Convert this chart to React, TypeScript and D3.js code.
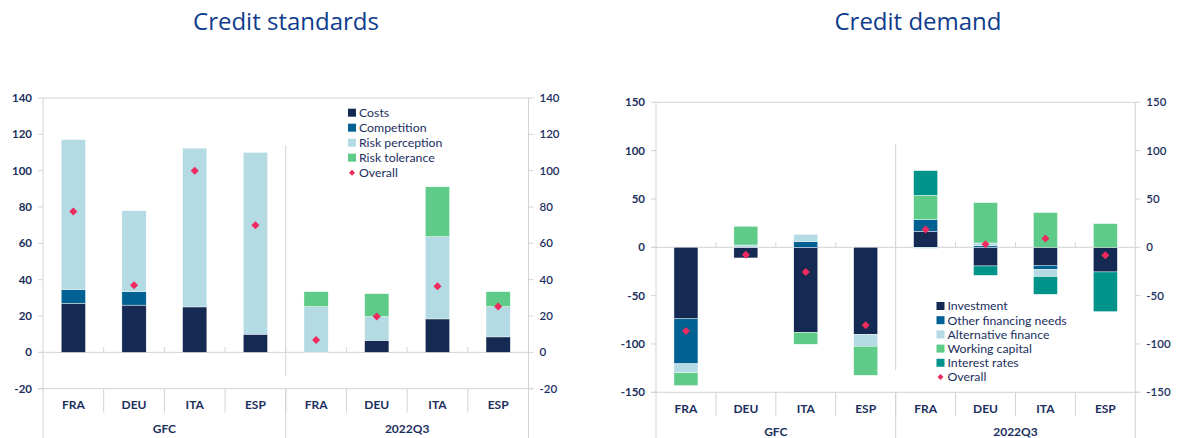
import React from 'react';
import * as d3 from 'd3';

const categories = ['FRA', 'DEU', 'ITA', 'ESP', 'FRA', 'DEU', 'ITA', 'ESP'];
const groups = ['GFC', '2022Q3'];

const stdSeriesNames = ['Costs', 'Competition', 'Risk perception', 'Risk tolerance'];
const stdCosts = [27, 26, 25, 10, 0, 6.6, 18.4, 8.5];
const stdCompetition = [7.5, 7.4, 0, 0, 0, 0, 0, 0];
const stdRiskPerception = [82.6, 44.5, 87.4, 100.1, 25.2, 13.1, 45.3, 16.7];
const stdRiskTolerance = [0, 0, 0, 0, 8.2, 12.6, 27.4, 8.2];
const stdOverall = [77.5, 37, 100, 70, 6.8, 19.7, 36.4, 25.3];
const stdTicks = [-20, 0, 20, 40, 60, 80, 100, 120, 140];

const demSeriesNames = ['Investment', 'Other financing needs', 'Alternative finance', 'Working capital', 'Interest rates'];
const demInvestment = [-74, -11, -88, -90, 16.6, -19.3, -18.6, -25.5];
const demOther = [-46.5, 0, 5.9, 0, 12, 1.5, -4.4, 0];
const demAlternative = [-9.3, 2.4, 7.5, -12.4, -1.3, 3, -7.3, 0];
const demWorking = [-13.2, 19.3, -12.3, -30, 25.2, 41.7, 35.9, 24.5];
const demInterest = [0, 0, 0, 0, 25.5, -9.7, -18.3, -41];
const demOverall = [-86.6, -7.6, -25.5, -80.7, 18.3, 3.1, 9, -8.3];
const demTicks = [-150, -100, -50, 0, 50, 100, 150];

const C_DARK = '#142a52';
const C_BLUE = '#006192';
const C_LIGHT = '#b4dae4';
const C_GREEN = '#5ecb88';
const C_TEAL = '#00938a';
const C_RED = '#ee2a5e';
const C_AXIS = '#d3d3d3';
const C_TEXT = '#1b2f5e';
const FONT = 'Lato, "Open Sans", sans-serif';

type ChartProps = {
  title: string;
  titleX: number;
  x0: number;
  x1: number;
  yTop: number;
  yBottom: number;
  domain: [number, number];
  ticks: number[];
  names: string[];
  values: number[][];
  colors: string[];
  overall: number[];
  legendX: number;
  legendY: number;
  legendStep: number;
  sepTop: number;
  sepBottom: number;
  catY: number;
  groupY: number;
};

function Chart(p: ChartProps) {
  const y = d3.scaleLinear().domain(p.domain).range([p.yBottom, p.yTop]);
  const idx = categories.map((_, i) => i);
  const x = d3
    .scaleBand<number>()
    .domain(idx)
    .range([p.x0, p.x1])
    .paddingInner(0.6)
    .paddingOuter(0.3);
  const step = x.step();
  const rows = idx.map((i) => {
    const r: any = { i };
    p.names.forEach((n, k) => (r[n] = p.values[k][i]));
    return r;
  });
  const stack = d3.stack<any>().keys(p.names).offset(d3.stackOffsetDiverging)(rows);
  const y0 = y(0);
  const diamond = d3.symbol(d3.symbolSquare, 32)();
  const nG = categories.length / groups.length;
  const bounds = d3.range(1, categories.length).map((k) => p.x0 + k * step);
  const groupBounds = d3.range(1, groups.length).map((g) => p.x0 + g * nG * step);
  const bottomY = 438;
  return (
    <g fontFamily={FONT}>
      <text x={p.titleX} y={30} textAnchor="middle" fontSize={24} fontFamily='"Open Sans", Lato, sans-serif' fill="#0f3c8c">
        {p.title}
      </text>
      {/* frame */}
      <line x1={p.x0} x2={p.x1} y1={p.yTop} y2={p.yTop} stroke={C_AXIS} />
      <line x1={p.x0} x2={p.x0} y1={p.yTop} y2={bottomY} stroke={C_AXIS} />
      <line x1={p.x1} x2={p.x1} y1={p.yTop} y2={bottomY} stroke={C_AXIS} />
      <line x1={p.x0 - 5} x2={p.x1} y1={y0} y2={y0} stroke={C_AXIS} />
      <line x1={p.x0 - 5} x2={p.x1 + 5} y1={p.yBottom} y2={p.yBottom} stroke={C_AXIS} />
      {/* ticks */}
      {p.ticks.map((t) => (
        <g key={t}>
          <line x1={p.x0 - 5} x2={p.x0} y1={y(t)} y2={y(t)} stroke={C_AXIS} />
          <line x1={p.x1} x2={p.x1 + 5} y1={y(t)} y2={y(t)} stroke={C_AXIS} />
          <text x={p.x0 - 11} y={y(t)} dy="0.35em" textAnchor="end" fontSize={11.5} fontWeight={700} fill={C_TEXT}>
            {t}
          </text>
          <text x={p.x1 + 11} y={y(t)} dy="0.35em" textAnchor="start" fontSize={11.5} fontWeight={600} fill={C_TEXT}>
            {t}
          </text>
        </g>
      ))}
      {/* boundary ticks on zero line */}
      {bounds.map((b, k) => (
        <line key={'zt' + k} x1={b} x2={b} y1={y0 - 5} y2={y0} stroke={C_AXIS} />
      ))}
      {/* category separators under axis */}
      {bounds.map((b, k) => (
        <line key={'cs' + k} x1={b} x2={b} y1={p.yBottom} y2={p.yBottom + 24} stroke={C_AXIS} />
      ))}
      {groupBounds.map((b, k) => (
        <g key={'gs' + k}>
          <line x1={b} x2={b} y1={p.yBottom} y2={bottomY} stroke={C_AXIS} />
          <line x1={b} x2={b} y1={p.sepTop} y2={p.sepBottom} stroke={C_AXIS} />
        </g>
      ))}
      {/* bars */}
      {stack.map((s, k) => (
        <g key={p.names[k]} fill={p.colors[k]}>
          {s.map((d, i) =>
            d[1] - d[0] === 0 ? null : (
              <rect
                key={i}
                x={x(i)}
                width={x.bandwidth()}
                y={y(Math.max(d[0], d[1]))}
                height={Math.abs(y(d[0]) - y(d[1]))}
                stroke="#ffffff"
                strokeWidth={0.4}
              />
            )
          )}
        </g>
      ))}
      {/* overall */}
      {p.overall.map((v, i) => (
        <path
          key={'ov' + i}
          d={diamond as string}
          transform={`translate(${(x(i) as number) + x.bandwidth() / 2},${y(v)}) rotate(45)`}
          fill={C_RED}
        />
      ))}
      {/* category labels */}
      {categories.map((c, i) => (
        <text key={'cl' + i} x={p.x0 + (i + 0.5) * step} y={p.catY} textAnchor="middle" fontSize={12} fontWeight={700} fill={C_TEXT}>
          {c}
        </text>
      ))}
      {groups.map((g, k) => (
        <text key={'gl' + k} x={p.x0 + (k + 0.5) * nG * step} y={p.groupY} textAnchor="middle" fontSize={12} fontWeight={700} fill={C_TEXT}>
          {g}
        </text>
      ))}
      {/* legend */}
      {p.names.map((n, k) => (
        <g key={'lg' + k} transform={`translate(${p.legendX},${p.legendY + k * p.legendStep})`}>
          <rect x={0} y={-4} width={8} height={8} fill={p.colors[k]} />
          <text x={11} y={0} dy="0.35em" fontSize={12.3} fill={C_TEXT}>
            {n}
          </text>
        </g>
      ))}
      <g transform={`translate(${p.legendX},${p.legendY + p.names.length * p.legendStep})`}>
        <path d={d3.symbol(d3.symbolSquare, 18)() as string} transform="translate(4,0) rotate(45)" fill={C_RED} />
        <text x={11} y={0} dy="0.35em" fontSize={12.3} fill={C_TEXT}>
          Overall
        </text>
      </g>
    </g>
  );
}

export default function App() {
  return (
    <svg width={1183} height={438} style={{ display: 'block', margin: '-8px 0 0 -8px' }}>
      <rect width={1183} height={438} fill="#ffffff" />
      <Chart
        title="Credit standards"
        titleX={286}
        x0={43}
        x1={528.5}
        yTop={98}
        yBottom={388.7}
        domain={[-20, 140]}
        ticks={stdTicks}
        names={stdSeriesNames}
        values={[stdCosts, stdCompetition, stdRiskPerception, stdRiskTolerance]}
        colors={[C_DARK, C_BLUE, C_LIGHT, C_GREEN]}
        overall={stdOverall}
        legendX={348}
        legendY={112.7}
        legendStep={15}
        sepTop={145}
        sepBottom={376}
        catY={409}
        groupY={433}
      />
      <Chart
        title="Credit demand"
        titleX={918}
        x0={656}
        x1={1135.3}
        yTop={102.3}
        yBottom={392.3}
        domain={[-150, 150]}
        ticks={demTicks}
        names={demSeriesNames}
        values={[demInvestment, demOther, demAlternative, demWorking, demInterest]}
        colors={[C_DARK, C_BLUE, C_LIGHT, C_GREEN, C_TEAL]}
        overall={demOverall}
        legendX={936.5}
        legendY={306}
        legendStep={14.2}
        sepTop={144}
        sepBottom={370}
        catY={413}
        groupY={436}
      />
    </svg>
  );
}
